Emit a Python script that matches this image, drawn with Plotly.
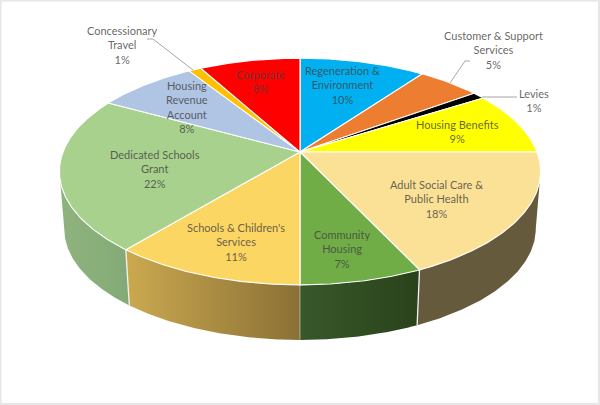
import math
import plotly.graph_objects as go

# Budget shares, clockwise from twelve o'clock
categories = ["Regeneration & Environment", "Customer & Support Services", "Levies",
              "Housing Benefits", "Adult Social Care & Public Health", "Community Housing",
              "Schools & Children's Services", "Dedicated Schools Grant",
              "Housing Revenue Account", "Concessionary Travel", "Corporate"]
values = [10, 5, 1, 9, 18, 7, 11, 22, 8, 1, 8]
top_colours = ["#00b0f0", "#ed7d31", "#000000", "#ffff00", "#fbe196", "#70ad47",
               "#fcd663", "#a9d18e", "#b0c4e4", "#ffc000", "#ff0000"]

# Rim shading: left colour, right colour (None where the rim faces away)
wall_colours = [None, None, None, None, ("#665a3c", "#665a3c"), ("#38582a", "#2a421a"),
                ("#cba94f", "#8a7036"), ("#8fb37f", "#83aa76"), None, None, None]

label_lines = ["Regeneration &<br>Environment<br>10%", "Customer & Support<br>Services<br>5%",
               "Levies<br>1%", "Housing Benefits<br>9%", "Adult Social Care &<br>Public Health<br>18%",
               "Community<br>Housing<br>7%", "Schools & Children's<br>Services<br>11%",
               "Dedicated Schools<br>Grant<br>22%", "Housing<br>Revenue<br>Account<br>8%",
               "Concessionary<br>Travel<br>1%", "Corporate<br>8%"]
label_centres = [(342, 85), (493, 50), (534, 100), (457, 131), (436, 199), (342, 249),
                 (236, 242), (155, 169), (187, 107), (122, 44.5), (260, 81)]

# Leader lines for the labels that sit outside the pie
leaders = [([147, 153, 193], [39, 39, 70]),
           ([470, 465, 450], [61, 61, 83]),
           ([517, 482], [97, 97])]

# Perspective projection of the pie disc onto the page
CX, CY = 300, 152
RX, RY = 237, 110
PERSP = 0.172
DROP_Y = 57.7       # vertical offset of the lower rim
LOWER_SCALE = 0.98  # lower rim recedes a little
HORIZON = math.degrees(math.acos(-PERSP))   # angle where the outline is widest


def project(deg, lower=False):
    t = math.radians(deg)
    u, v = math.sin(t), -math.cos(t)
    d = 1 - PERSP * v
    s = LOWER_SCALE if lower else 1
    return CX + s * RX * u / d, CY + (DROP_Y if lower else 0) + s * RY * v / d


def arc(a, b, lower=False):
    n = max(2, int(abs(b - a) * 2))
    pts = [project(a + (b - a) * i / n, lower) for i in range(n + 1)]
    return [p[0] for p in pts], [p[1] for p in pts]


fig = go.Figure()
edges = [0]
for val in values:
    edges.append(edges[-1] + val * 3.6)

# Rim first, so the top faces overlap it
for name, lo, hi, shade in zip(categories, edges, edges[1:], wall_colours):
    if shade is None:
        continue
    a, b = max(lo, HORIZON), min(hi, 360 - HORIZON)
    ux, uy = arc(a, b)
    lx, ly = arc(b, a, True)
    fig.add_trace(go.Scatter(
        x=ux + lx + ux[:1], y=uy + ly + uy[:1], mode="lines", fill="toself", name=name,
        line=dict(color="rgba(255,255,255,0)", width=0),
        fillgradient=dict(type="horizontal", colorscale=[[0, shade[0]], [1, shade[1]]]),
        hoverinfo="skip"))

# Pale seams between rim segments that meet at the front; the centre one is faint
for deg, seam_width in zip(edges[5:8], [1.3, 0.5, 1.3]):
    x0, y0 = project(deg)
    x1, y1 = project(deg, True)
    fig.add_trace(go.Scatter(x=[x0, x1], y=[y0, y1], mode="lines",
                             line=dict(color="#f2f2f2", width=seam_width), hoverinfo="skip"))

# Top faces
for name, lo, hi, colour in zip(categories, edges, edges[1:], top_colours):
    ax, ay = arc(lo, hi)
    fig.add_trace(go.Scatter(
        x=[CX] + ax + [CX], y=[CY] + ay + [CY], mode="lines", fill="toself", name=name,
        fillcolor=colour, line=dict(color="white", width=1.1), hoverinfo="skip"))

for lx, ly in leaders:
    fig.add_trace(go.Scatter(x=lx, y=ly, mode="lines",
                             line=dict(color="#a6a6a6", width=1), hoverinfo="skip"))

for text, (x, y) in zip(label_lines, label_centres):
    fig.add_annotation(x=x, y=y, text=text, showarrow=False, align="center",
                       xanchor="center", yanchor="middle",
                       font=dict(family="Lato", size=11, color="rgba(64,64,64,0.8)"))

fig.update_layout(
    width=600, height=405, margin=dict(l=0, r=0, t=0, b=0), showlegend=False,
    paper_bgcolor="white", plot_bgcolor="white",
    xaxis=dict(range=[0, 600], visible=False, fixedrange=True),
    yaxis=dict(range=[405, 0], visible=False, fixedrange=True),
    shapes=[dict(type="rect", xref="x", yref="y", x0=0.5, y0=0.5, x1=599, y1=404,
                 line=dict(color="#e6e6e6", width=2), layer="above")])

fig.write_html("out.html", config={"displayModeBar": False})
